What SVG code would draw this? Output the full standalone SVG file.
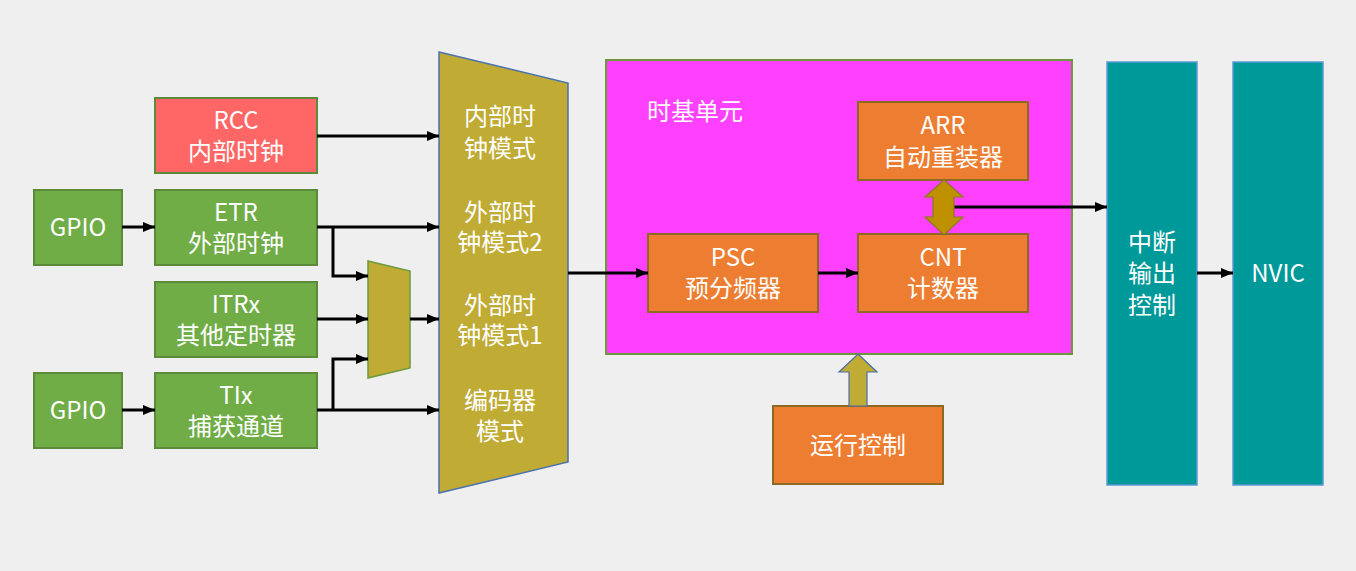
<svg xmlns="http://www.w3.org/2000/svg" width="1356" height="571" viewBox="0 0 1356 571">
<style>
text{font-family:"Noto Sans CJK SC","Liberation Sans",sans-serif;font-size:24px;fill:#ffffff;text-anchor:middle;dominant-baseline:central}
.green{fill:#70AD47;stroke:#5A8A3A;stroke-width:2}
.red{fill:#FF6666;stroke:#5A8A3A;stroke-width:2}
.orange{fill:#ED7D31;stroke:#8C6A23;stroke-width:2}
.teal{fill:#009999;stroke:#5B9BD5;stroke-width:1.5}
.conn{fill:none;stroke:#000;stroke-width:3;marker-end:url(#ah)}
</style>
<defs>
<marker id="ah" markerUnits="userSpaceOnUse" markerWidth="14" markerHeight="14" refX="12" refY="7" orient="auto">
<path d="M0,2 L12,7 L0,12 Z" fill="#000"/>
</marker>
</defs>
<rect width="1356" height="571" fill="#EFEFEF"/>

<g id="rcc"><rect class="red" x="155" y="98" width="162" height="75"/><text x="236" y="118">RCC<tspan x="236" dy="31">内部时钟</tspan></text></g>
<g id="gpio1"><rect class="green" x="34" y="190" width="88" height="75"/><text x="78" y="225">GPIO</text></g>
<g id="etr"><rect class="green" x="155" y="190" width="162" height="75"/><text x="236" y="210">ETR<tspan x="236" dy="31">外部时钟</tspan></text></g>
<g id="itrx"><rect class="green" x="155" y="282" width="162" height="75"/><text x="236" y="302">ITRx<tspan x="236" dy="31">其他定时器</tspan></text></g>
<g id="gpio2"><rect class="green" x="34" y="373" width="88" height="75"/><text x="78" y="408">GPIO</text></g>
<g id="tix"><rect class="green" x="155" y="373" width="162" height="75"/><text x="236" y="393">TIx<tspan x="236" dy="31">捕获通道</tspan></text></g>

<g id="smallmux"><polygon points="368,261 410,271 410,368 368,378" fill="#C0AB35" stroke="#6A9A3C" stroke-width="1.5"/></g>
<g id="bigmux"><polygon points="439,52 568,83 568,462 439,493" fill="#C0AB35" stroke="#4A72B0" stroke-width="1.5"/>
<text x="500" y="114">内部时<tspan x="500" dy="32">钟模式</tspan></text>
<text x="500" y="210">外部时<tspan x="500" dy="30">钟模式2</tspan></text>
<text x="500" y="303">外部时<tspan x="500" dy="30">钟模式1</tspan></text>
<text x="500" y="398">编码器<tspan x="500" dy="31">模式</tspan></text></g>

<g id="timebase"><rect x="606" y="60" width="466" height="294" fill="#FF40FF" stroke="#6B9A3A" stroke-width="2"/><text x="647" y="109" style="text-anchor:start">时基单元</text></g>
<g id="arr"><rect class="orange" x="858" y="102" width="170" height="78"/><text x="943" y="123">ARR<tspan x="943" dy="32">自动重装器</tspan></text></g>
<g id="psc"><rect class="orange" x="648" y="234" width="170" height="78"/><text x="733" y="255">PSC<tspan x="733" dy="31">预分频器</tspan></text></g>
<g id="cnt"><rect class="orange" x="858" y="234" width="170" height="78"/><text x="943" y="255">CNT<tspan x="943" dy="31">计数器</tspan></text></g>
<g id="runctrl"><rect class="orange" x="773" y="406" width="170" height="78"/><text x="858" y="443">运行控制</text></g>
<g id="irq"><rect class="teal" x="1107" y="62" width="90" height="423"/><text x="1152" y="240">中断<tspan x="1152" dy="31">输出</tspan><tspan x="1152" dy="32">控制</tspan></text></g>
<g id="nvic"><rect class="teal" x="1233" y="62" width="90" height="423"/><text x="1278" y="271">NVIC</text></g>

<g id="connectors">
<line class="conn" x1="317" y1="136" x2="439" y2="136"/>
<line class="conn" x1="122" y1="227" x2="155" y2="227"/>
<line class="conn" x1="317" y1="227" x2="439" y2="227"/>
<polyline class="conn" points="333,227 333,276 368,276"/>
<line class="conn" x1="317" y1="319" x2="368" y2="319"/>
<line class="conn" x1="410" y1="319" x2="439" y2="319"/>
<line class="conn" x1="122" y1="410" x2="155" y2="410"/>
<line class="conn" x1="317" y1="410" x2="439" y2="410"/>
<polyline class="conn" points="333,410 333,359 368,359"/>
<line class="conn" x1="568" y1="273" x2="648" y2="273"/>
<line class="conn" x1="818" y1="273" x2="858" y2="273"/>
<line class="conn" x1="954" y1="207" x2="1107" y2="207"/>
<line class="conn" x1="1197" y1="273" x2="1233" y2="273"/>
<polygon points="944,180 963,197 954,197 954,217 963,217 944,235 925,217 933,217 933,197 925,197" fill="#BF9000" stroke="#8A7A20" stroke-width="1.2"/>
<polygon points="858,354 877,372 867,372 867,406 849,406 849,372 839,372" fill="#C0AB35" stroke="#4A6FA8" stroke-width="1.2"/>
</g>
</svg>
